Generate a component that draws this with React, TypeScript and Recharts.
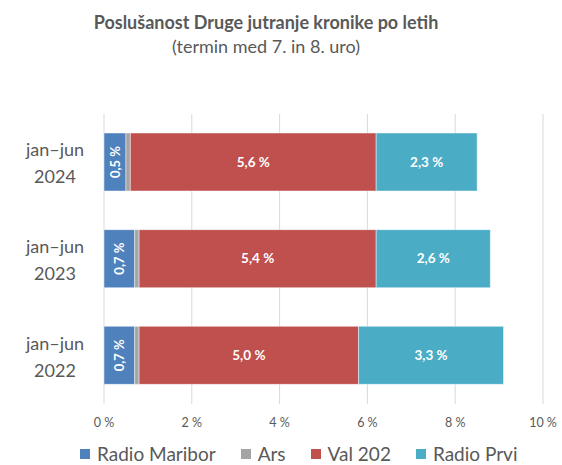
import React from "react";
import {
  BarChart,
  Bar,
  XAxis,
  YAxis,
  CartesianGrid,
  Legend,
  LabelList,
} from "recharts";

const categories = ["jan–jun 2024", "jan–jun 2023", "jan–jun 2022"];
const radioMaribor = [0.5, 0.7, 0.7];
const ars = [0.1, 0.1, 0.1];
const val202 = [5.6, 5.4, 5.0];
const radioPrvi = [2.3, 2.6, 3.3];
const xTicks = [0, 2, 4, 6, 8, 10];

const SERIES = [
  { key: "maribor", name: "Radio Maribor", color: "#4F81BD" },
  { key: "ars", name: "Ars", color: "#A5A5A5" },
  { key: "val", name: "Val 202", color: "#C0504D" },
  { key: "prvi", name: "Radio Prvi", color: "#4BACC6" },
];

const data = categories.map((c, i) => ({
  cat: c,
  maribor: radioMaribor[i],
  ars: ars[i],
  val: val202[i],
  prvi: radioPrvi[i],
}));

const FONT = "Lato, 'Open Sans', sans-serif";
const TEXT = "#595959";

const fmt = (v: unknown) => `${Number(v).toFixed(1).replace(".", ",")} %`;

function YTick(props: any) {
  const { y, payload } = props;
  const [a, b] = String(payload.value).split(" ");
  return (
    <text x={55} y={y} textAnchor="middle" fill={TEXT} fontSize={18} fontFamily={FONT}>
      <tspan x={55} dy={-6}>{a}</tspan>
      <tspan x={55} dy={27}>{b}</tspan>
    </text>
  );
}

function VerticalLabel(props: any) {
  const { x, y, width, height, value } = props;
  const cx = x + width / 2;
  const cy = y + height / 2;
  return (
    <text
      x={cx}
      y={cy}
      transform={`rotate(-90 ${cx} ${cy})`}
      textAnchor="middle"
      dominantBaseline="central"
      fill="#fff"
      fontSize={13}
      fontWeight="bold"
      fontFamily={FONT}
    >
      {fmt(value)}
    </text>
  );
}

function LegendContent() {
  return (
    <div
      style={{
        display: "flex",
        justifyContent: "flex-start",
        gap: 25,
        paddingLeft: 80,
        paddingTop: 7,
        fontFamily: FONT,
        fontSize: 19,
        color: TEXT,
      }}
    >
      {SERIES.map((s) => (
        <div key={s.key} style={{ display: "flex", alignItems: "center", gap: 7 }}>
          <span style={{ width: 10, height: 10, background: s.color, display: "inline-block" }} />
          <span>{s.name}</span>
        </div>
      ))}
    </div>
  );
}

export default function App() {
  return (
    <div style={{ position: "absolute", left: 0, top: 0, width: 562, height: 465, background: "#fff" }}>
      <div
        style={{
          position: "absolute",
          top: 10,
          left: 0,
          width: 532,
          textAlign: "center",
          fontFamily: FONT,
          color: TEXT,
          fontSize: 18,
          lineHeight: "24px",
        }}
      >
        <div style={{ fontWeight: "bold" }}>Poslušanost Druge jutranje kronike po letih</div>
        <div>(termin med 7. in 8. uro)</div>
      </div>
      <BarChart
        width={562}
        height={465}
        data={data}
        layout="vertical"
        barSize={58}
        margin={{ top: 114, right: 19, left: 0, bottom: 0 }}
      >
        <CartesianGrid horizontal={false} stroke="#D9D9D9" />
        <XAxis
          type="number"
          domain={[0, 10]}
          ticks={xTicks}
          tickFormatter={(v: unknown) => `${v} %`}
          axisLine={false}
          tickLine={false}
          tickSize={0}
          tickMargin={14}
          height={31}
          tick={{ fontSize: 12.5, fill: TEXT, fontFamily: FONT }}
          interval={0}
        />
        <YAxis
          type="category"
          dataKey="cat"
          width={104}
          axisLine={false}
          tickLine={false}
          tick={<YTick />}
        />
        <Legend verticalAlign="bottom" height={30} content={<LegendContent />} />
        {SERIES.map((s) => (
          <Bar
            key={s.key}
            dataKey={s.key}
            name={s.name}
            stackId="a"
            fill={s.color}
            stroke="#ffffff"
            strokeOpacity={0.45}
            strokeWidth={1}
            isAnimationActive={false}
          >
            {s.key === "maribor" && <LabelList dataKey={s.key} content={<VerticalLabel />} />}
            {(s.key === "val" || s.key === "prvi") && (
              <LabelList
                dataKey={s.key}
                position="center"
                formatter={fmt}
                fill="#fff"
                fontSize={13.5}
                fontWeight="bold"
                fontFamily={FONT}
              />
            )}
          </Bar>
        ))}
      </BarChart>
    </div>
  );
}
